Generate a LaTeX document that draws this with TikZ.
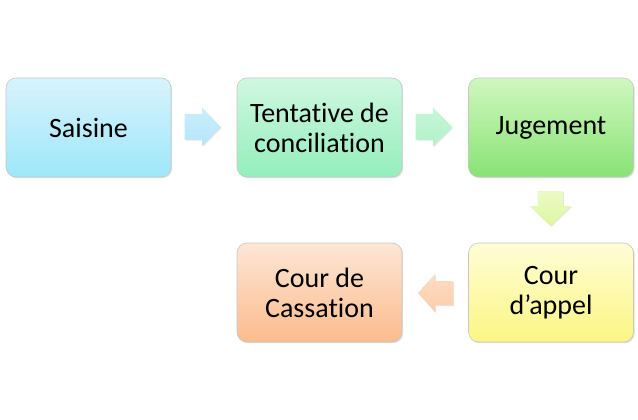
\documentclass[tikz,border=0pt]{standalone}
\usepackage{fontspec}
\setmainfont[Ligatures=NoCommon]{Carlito}
\usetikzlibrary{shadows}
\definecolor{saiT}{HTML}{D8F3FC}\definecolor{saiB}{HTML}{9EE7FB}
\definecolor{tenT}{HTML}{D0F7E1}\definecolor{tenB}{HTML}{94EEBC}
\definecolor{jugT}{HTML}{D0F7BF}\definecolor{jugB}{HTML}{88E375}
\definecolor{appT}{HTML}{FFFDD6}\definecolor{appB}{HTML}{FBF684}
\definecolor{casT}{HTML}{FDE6D5}\definecolor{casB}{HTML}{FBBC8D}
\definecolor{ar1}{HTML}{B4E6FA}\definecolor{ar2}{HTML}{B0F2C8}
\definecolor{ar3}{HTML}{DDF7A0}\definecolor{ar4}{HTML}{FDCDAA}
\tikzset{
  stagebox/.style={draw=black!22, line width=0.6pt, rounded corners=10pt,
    minimum width=165pt, minimum height=99pt, align=center,
    font=\fontsize{28}{30}\selectfont, text=black,
    drop shadow={opacity=0.25, shadow xshift=1.2pt, shadow yshift=-1.2pt}},
  flowarrow/.style={draw=none,
    drop shadow={opacity=0.2, shadow xshift=1pt, shadow yshift=-1pt}}
}
\begin{document}
\begin{tikzpicture}[x=1pt,y=-1pt]
\useasboundingbox (0,0) rectangle (638,420);
\fill[white] (0,0) rectangle (638,420);
\node[stagebox, top color=saiT, bottom color=saiB] (sai) at (88.5,127.5) {Saisine};
\node[stagebox, top color=tenT, bottom color=tenB] (ten) at (319.5,127.5) {Tentative de\\conciliation};
\node[stagebox, top color=jugT, bottom color=jugB] (jug) at (551,127.5) {Jugement};
\node[stagebox, top color=appT, bottom color=appB] (app) at (551,292.5) {Cour\\d’appel};
\node[stagebox, top color=casT, bottom color=casB] (cas) at (319.5,292.5) {Cour de\\Cassation};
% arrows
\path[flowarrow, top color=ar1!70!white, bottom color=ar1] (184.5,114) -- (202,114) -- (202,107.5) -- (220.5,127) -- (202,146) -- (202,139.5) -- (184.5,139.5) -- cycle;
\path[flowarrow, top color=ar2!70!white, bottom color=ar2] (415.5,114) -- (433,114) -- (433,107.5) -- (452,127) -- (433,146) -- (433,139.5) -- (415.5,139.5) -- cycle;
\path[flowarrow, top color=ar3!60!white, bottom color=ar3] (537.5,191) -- (563,191) -- (563,206) -- (571,206) -- (550.3,226) -- (530,206) -- (537.5,206) -- cycle;
\path[flowarrow, top color=ar4!70!white, bottom color=ar4] (453,281) -- (435,281) -- (435,274) -- (418,293) -- (435,312) -- (435,305) -- (453,305) -- cycle;
\end{tikzpicture}
\end{document}
